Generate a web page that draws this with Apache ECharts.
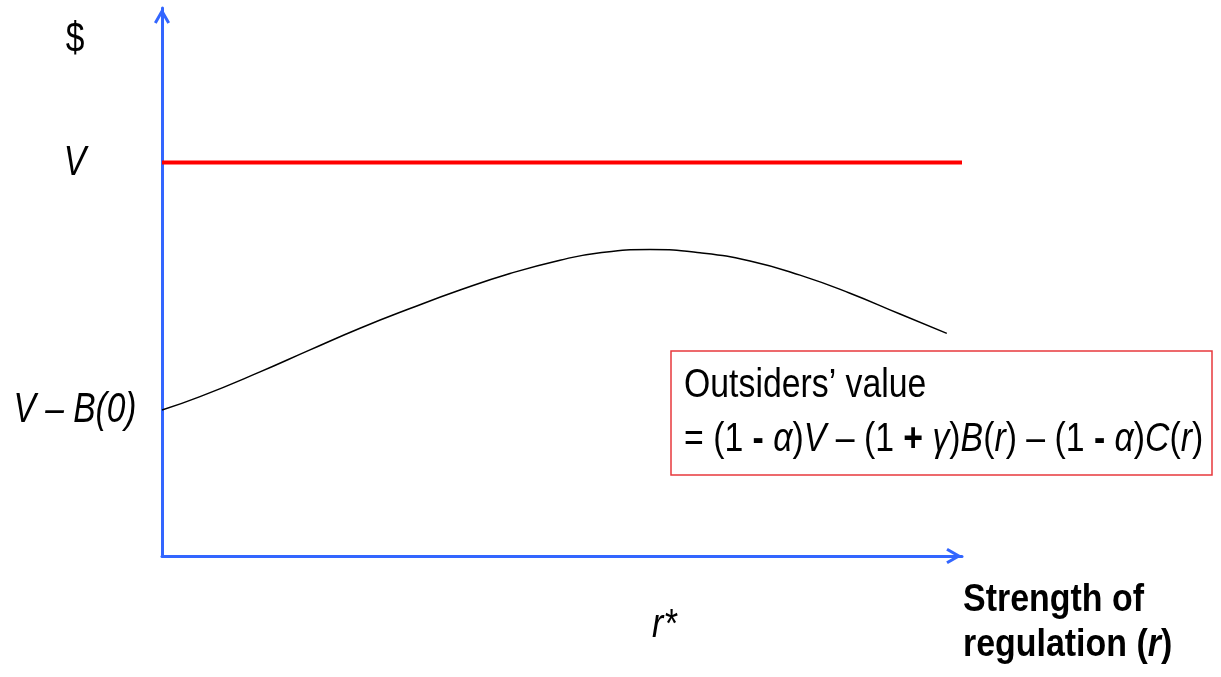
<!DOCTYPE html>
<html>
<head>
<meta charset="utf-8">
<script src="https://cdn.jsdelivr.net/npm/echarts@6/dist/echarts.min.js"></script>
<style>
  html, body { margin: 0; padding: 0; background: #fff; }
  #main { width: 1221px; height: 677px; }
</style>
</head>
<body>
<div id="main"></div>
<script>
// regulation strength (0..100) and $ value (V = 100)
var rValues = [0, 4.75, 12.25, 18.5, 24.75, 31, 37.25, 43.5, 49.75, 54.75, 61, 67.25, 73.5, 79.75, 86, 92.25, 98.1];
var outsidersValue = [37.1, 40.5, 46.8, 52.4, 57.9, 62.9, 67.6, 71.8, 75.2, 77.1, 77.9, 77.1, 75.0, 71.4, 66.8, 61.5, 56.6];
var vLevel = 100;
var vLine = [[0, vLevel], [100, vLevel]];

// tick labels
var yTickValues = [131.1, vLevel, 37.1];
var yTickLabels = ['$', '{i|V}', '{i|V – B(0)}'];
var xTickValues = [62.8];
var xTickLabels = ['{i|r*}'];

// the original uses a condensed face; squeeze Liberation Sans to match
var FONT = '"Liberation Sans", Arial, sans-serif';
var BLUE = '#3366ff';
var chevron = 'path://M0,14 L8,0 L16,14 L13.4,15.6 L8,6 L2.6,15.6 Z';

var myChart = echarts.init(document.getElementById('main'));

var axisLine = {
    lineStyle: { color: BLUE, width: 3 },
    symbol: ['none', chevron],
    symbolSize: [16, 16],
    symbolOffset: [0, -8]
};

var option = {
    animation: false,
    grid: { left: 162, right: 259, top: 8, bottom: 121 },
    xAxis: {
        type: 'value', min: 0, max: 100,
        splitLine: { show: false }, axisTick: { show: false }, axisLabel: { show: false },
        axisLine: axisLine
    },
    yAxis: {
        type: 'value', min: 0, max: 139.3,
        splitLine: { show: false }, axisTick: { show: false }, axisLabel: { show: false },
        axisLine: axisLine
    },
    series: [
        {
            type: 'line',
            data: vLine,
            symbol: 'none',
            lineStyle: { color: '#ff0000', width: 4 },
            z: 3
        },
        {
            type: 'line',
            data: rValues.map(function (r, i) { return [r, outsidersValue[i]]; }),
            smooth: 0.5,
            symbol: 'none',
            lineStyle: { color: '#000', width: 1.5 },
            z: 3
        }
    ]
};

myChart.setOption(option);

// tick labels placed through the axis scales
var labelStyle = function (text, size) {
    return {
        text: text,
        fontFamily: FONT,
        fontSize: size,
        fill: '#000',
        align: 'center',
        verticalAlign: 'middle',
        rich: {
            i: { fontFamily: FONT, fontSize: size, fontStyle: 'italic' }
        }
    };
};

var graphics = [];
yTickValues.forEach(function (v, i) {
    var p = myChart.convertToPixel({ gridIndex: 0 }, [0, v]);
    graphics.push({
        type: 'text', x: p[0] - 87, y: p[1], scaleX: 0.78,
        style: labelStyle(yTickLabels[i], 43)
    });
});
xTickValues.forEach(function (v, i) {
    var p = myChart.convertToPixel({ gridIndex: 0 }, [v, 0]);
    graphics.push({
        type: 'text', x: p[0], y: p[1] + 70, scaleX: 0.85,
        style: labelStyle(xTickLabels[i], 40)
    });
});

// x axis title
graphics.push({
    type: 'text', x: 963, y: 578, scaleX: 0.87,
    style: {
        text: 'Strength of\nregulation ({i|r})',
        fontFamily: FONT, fontSize: 39, fontWeight: 'bold', lineHeight: 45, fill: '#000',
        rich: {
            i: { fontFamily: FONT, fontSize: 39, fontWeight: 'bold', fontStyle: 'italic', lineHeight: 45 }
        }
    }
});

// annotation box
graphics.push({
    type: 'rect',
    shape: { x: 671, y: 351, width: 541, height: 124 },
    style: { fill: '#fff', stroke: '#e8383d', lineWidth: 1.5 }
});
graphics.push({
    type: 'text', x: 684, y: 359, scaleX: 0.845,
    style: {
        text: 'Outsiders’ value\n= (1 {b|-} {i|α}){i|V} – (1 {b|+} {i|γ}){i|B}({i|r}) – (1 {b|-} {i|α}){i|C}({i|r})',
        fontFamily: FONT, fontSize: 40, lineHeight: 54, fill: '#000',
        rich: {
            i: { fontFamily: FONT, fontSize: 40, fontStyle: 'italic', lineHeight: 54 },
            b: { fontFamily: FONT, fontSize: 40, fontWeight: 'bold', lineHeight: 54 }
        }
    }
});

myChart.setOption({ graphic: graphics });
</script>
</body>
</html>
